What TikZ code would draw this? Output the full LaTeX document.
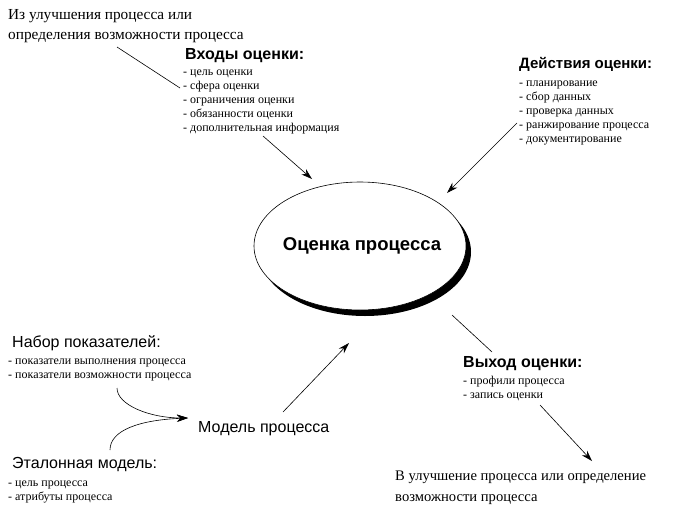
\documentclass[tikz,border=0pt]{standalone}
\usepackage{fontspec}
\setmainfont{Liberation Serif}
\setsansfont{Liberation Sans}
\usetikzlibrary{arrows.meta, shapes.geometric, shadows}

\begin{document}
\begin{tikzpicture}[x=1pt, y=-1pt,
    heading/.style={anchor=base west, inner sep=0pt, font=\sffamily\fontsize{16}{18}\selectfont},
    headingbold/.style={heading, font=\sffamily\bfseries\fontsize{16}{18}\selectfont},
    itemlist/.style={anchor=base west, inner sep=0pt, align=left, font=\fontsize{12}{14}\selectfont},
    note/.style={anchor=base west, inner sep=0pt, align=left, font=\fontsize{14.6}{20.5}\selectfont},
    link/.style={draw, line width=0.6pt},
    arrowlink/.style={link, -{Stealth[length=11pt, width=7pt]}}
]
    \useasboundingbox (0,0) rectangle (676,522);

    % central process
    \node[ellipse, draw, line width=0.6pt, fill=white, minimum width=212pt, minimum height=128pt,
          drop shadow={shadow xshift=5pt, shadow yshift=-6pt, fill=black, opacity=1}] (assess) at (360,246) {};
    \node[anchor=base, inner sep=0pt, font=\sffamily\bfseries\fontsize{18.5}{20}\selectfont] (assesslabel) at (362,250) {Оценка процесса};

    % inputs (last line baselines)
    \node[note, font=\fontsize{15.3}{20}\selectfont] (fromimprove) at (8,39) {Из улучшения процесса или\\определения возможности процесса};
    \node[headingbold] (inhead) at (185,59) {Входы оценки:};
    \node[itemlist] (initems) at (183,131) {- цель оценки\\- сфера оценки\\- ограничения оценки\\- обязанности оценки\\- дополнительная информация};

    % activities
    \node[headingbold, font=\sffamily\bfseries\fontsize{15}{18}\selectfont] (acthead) at (519,68) {Действия оценки:};
    \node[itemlist] (actitems) at (519,142) {- планирование\\- сбор данных\\- проверка данных\\- ранжирование процесса\\- документирование};

    % outputs
    \node[headingbold] (outhead) at (463,367) {Выход оценки:};
    \node[itemlist] (outitems) at (463,398) {- профили процесса\\- запись оценки};
    \node[note] (toimprove) at (395,501) {В улучшение процесса или определение\\возможности процесса};

    % process model
    \node[heading] (indhead) at (12,347) {Набор показателей:};
    \node[itemlist] (inditems) at (8,378) {- показатели выполнения процесса\\- показатели возможности процесса};
    \node[heading] (model) at (198,432) {Модель процесса};
    \node[heading] (refhead) at (12,468) {Эталонная модель:};
    \node[itemlist] (refitems) at (8,500) {- цель процесса\\- атрибуты процесса};

    % connector ends
    \coordinate (fromimprove-end) at (117,47);
    \coordinate (initems-in) at (180,88);
    \coordinate (initems-out) at (263,136);
    \coordinate (assess-in) at (312,179);
    \coordinate (actitems-out) at (517,123);
    \coordinate (assess-inr) at (447,193);
    \coordinate (assess-out) at (452,315);
    \coordinate (outhead-in) at (492,352);
    \coordinate (outitems-out) at (540,405);
    \coordinate (toimprove-in) at (592,461);
    \coordinate (inditems-out) at (117,388);
    \coordinate (refhead-out) at (110,450);
    \coordinate (model-in) at (188,418);
    \coordinate (model-out) at (283,412);
    \coordinate (assess-inb) at (349,343);

    \draw[link] (fromimprove-end) -- (initems-in);
    \draw[arrowlink] (initems-out) -- (assess-in);
    \draw[arrowlink] (actitems-out) -- (assess-inr);
    \draw[link] (assess-out) -- (outhead-in);
    \draw[arrowlink] (outitems-out) -- (toimprove-in);
    \draw[arrowlink] (inditems-out) .. controls (117,405) and (150,418) .. (model-in);
    \draw[arrowlink] (refhead-out) .. controls (110,430) and (140,420) .. (model-in);
    \draw[arrowlink] (model-out) -- (assess-inb);
\end{tikzpicture}
\end{document}
